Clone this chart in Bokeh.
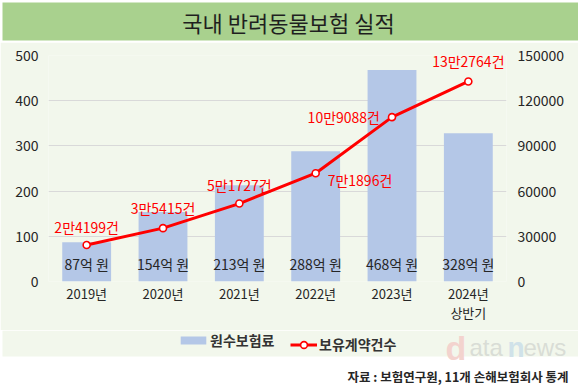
from bokeh.plotting import figure
from bokeh.layouts import column
from bokeh.models import (Range1d, LinearAxis, FactorRange, ColumnDataSource, Legend,
                          LegendItem, Label, BoxAnnotation, NumeralTickFormatter, FixedTicker)
from bokeh.core.properties import value
from bokeh.embed import file_html
from bokeh.resources import INLINE

# ---------------- data ----------------
categories = ["2019년", "2020년", "2021년", "2022년", "2023년", "2024년\n상반기"]
premium = [87, 154, 213, 288, 468, 328]
premium_labels = ["87억 원", "154억 원", "213억 원", "288억 원", "468억 원", "328억 원"]
contracts = [24199, 35415, 51727, 71896, 109088, 132764]
contract_labels = ["2만4199건", "3만5415건", "5만1727건", "7만1896건", "10만9088건", "13만2764건"]
left_ticks = [0, 100, 200, 300, 400, 500]
right_ticks = [0, 30000, 60000, 90000, 120000, 150000]
title_text = "국내 반려동물보험 실적"
source_text = "자료 : 보험연구원, 11개 손해보험회사 통계"
bar_name = "원수보험료"
line_name = "보유계약건수"

# ---------------- styles ----------------
FONT = "Noto Sans CJK KR"
PANEL = "#F2F7EC"
TITLE_BG = "#A9D18E"
BAR = "#B4C7E7"
RED = "#FF0000"
lab_xoff = [0, 0, 0, 12, -12, 0]
lab_yoff = [-18, -20, -19, 7, 0, -20]
lab_align = ["center", "center", "center", "left", "right", "center"]

W = 578


def blank(height, bg):
    f = figure(width=W, height=height, x_range=Range1d(0, W), y_range=Range1d(height, 0),
               x_axis_type=None, y_axis_type=None, output_backend="svg", toolbar_location=None,
               min_border=0, background_fill_color=bg, border_fill_color=bg,
               outline_line_color=None, frame_align=False)
    return f


# ---------------- title strip ----------------
fa = blank(42, "white")
fa.add_layout(BoxAnnotation(left=2, right=W, top=2, bottom=40, fill_color=TITLE_BG, fill_alpha=1,
                            line_color=None, level="image"))
fa.add_layout(Label(x=288, y=21, text=title_text, text_align="center", text_baseline="middle",
                    text_font=FONT, text_font_size="22px", text_color="#1F1F1F"))

# ---------------- main chart ----------------
HB = 288
src = ColumnDataSource(dict(cat=categories, premium=premium, plabel=premium_labels,
                            contracts=contracts, clabel=contract_labels,
                            xoff=lab_xoff, yoff=lab_yoff, align=lab_align))

p = figure(width=W, height=HB, x_range=FactorRange(*categories, range_padding=0),
           y_range=Range1d(0, 500), output_backend="svg", toolbar_location=None,
           min_border_left=48, min_border_right=72, min_border_top=13, min_border_bottom=49,
           background_fill_color=PANEL, border_fill_color=PANEL, outline_line_color=None,
           frame_align=False)
p.extra_y_ranges = {"right": Range1d(0, 150000)}

bars = p.vbar(x="cat", top="premium", width=0.64, source=src, fill_color=BAR, line_color=None)
line = p.line(x="cat", y="contracts", source=src, y_range_name="right", line_color=RED, line_width=3)
dots = p.scatter(x="cat", y="contracts", source=src, y_range_name="right", size=7,
                 fill_color="white", line_color=RED, line_width=1.6)

p.text(x="cat", y=0, text="plabel", source=src, y_offset=-18, text_align="center",
       text_baseline="middle", text_font=value(FONT), text_font_size="14px", text_color="#262626")
p.text(x="cat", y="contracts", text="clabel", source=src, y_range_name="right",
       x_offset="xoff", y_offset="yoff", text_align="align", text_baseline="middle",
       text_font=value(FONT), text_font_size="14px", text_color=RED)

p.yaxis.ticker = FixedTicker(ticks=left_ticks)
ra = LinearAxis(y_range_name="right", ticker=FixedTicker(ticks=right_ticks),
                formatter=NumeralTickFormatter(format="0"))
p.add_layout(ra, "right")
for ax in [p.yaxis[0], ra, p.xaxis[0]]:
    ax.axis_line_color = None
    ax.major_tick_line_color = None
    ax.minor_tick_line_color = None
    ax.major_tick_out = 0
    ax.major_tick_in = 0
    ax.minor_tick_out = 0
    ax.major_label_text_font = FONT
    ax.major_label_text_color = "#262626"
p.yaxis[0].major_label_text_font_size = "14px"
ra.major_label_text_font_size = "14px"
p.yaxis[0].major_label_standoff = 10
ra.major_label_standoff = 11
p.xaxis[0].major_label_text_font_size = "13px"
p.xaxis[0].major_label_text_line_height = 1.0
p.xaxis[0].major_label_standoff = 2

p.xgrid.visible = False
p.ygrid.ticker = FixedTicker(ticks=left_ticks)
p.ygrid.grid_line_color = "#D9D9D9"
p.ygrid.grid_line_width = 1

# ---------------- legend + source strip ----------------
HC = 57
fc = blank(HC, "white")
fc.add_layout(BoxAnnotation(left=2, right=W, top=0, bottom=26, fill_color=PANEL, fill_alpha=1,
                            line_color=None, level="image"))
lb = fc.vbar(x=[-1000], top=[0], bottom=[0], width=1, fill_color=BAR, line_color=None)
ll = fc.line(x=[-1000, -999], y=[0, 0], line_color=RED, line_width=3)
ls = fc.scatter(x=[-1000], y=[0], size=7, fill_color="white", line_color=RED, line_width=1.6)

common = dict(orientation="horizontal", padding=5, margin=0, border_line_color=None,
              background_fill_alpha=0, label_text_font=FONT, label_text_font_size="14px",
              label_text_font_style="bold", label_text_color="#333333")
leg1 = Legend(items=[LegendItem(label=bar_name, renderers=[lb])], location=(177, 37),
              glyph_width=32, glyph_height=10, label_height=10, label_standoff=1, **common)
leg2 = Legend(items=[LegendItem(label=line_name, renderers=[ll, ls])], location=(290, 33),
              glyph_width=27, glyph_height=17, label_height=17, label_standoff=2, **common)
fc.add_layout(leg1, "center")
fc.add_layout(leg2, "center")

# watermark
for txt, x, size, style, col in [("d", 445, "34px", "bold", "#F3D3CE"),
                                 ("ata", 469, "24px", "normal", "#D9DDD6"),
                                 ("n", 507, "28px", "bold", "#D0E2E9"),
                                 ("ews", 523, "24px", "normal", "#D9DDD6")]:
    fc.add_layout(Label(x=x, y=17, text=txt, text_align="left", text_baseline="alphabetic",
                        text_font="Liberation Sans", text_font_size=size,
                        text_font_style=style, text_color=col))

fc.add_layout(Label(x=568, y=46, text=source_text, text_align="right", text_baseline="middle",
                    text_font=FONT, text_font_size="12.5px", text_font_style="bold",
                    text_color="#262626"))

layout = column(fa, p, fc, spacing=0)
open("out.html", "w").write(file_html(layout, INLINE))
